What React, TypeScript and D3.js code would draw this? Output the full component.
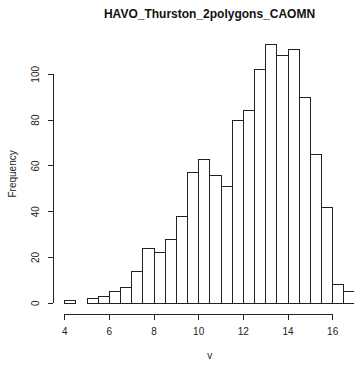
import React from "react";
import * as d3 from "d3";

const title = "HAVO_Thurston_2polygons_CAOMN";
const xLabel = "v";
const yLabel = "Frequency";
const binEdges = [4, 4.5, 5, 5.5, 6, 6.5, 7, 7.5, 8, 8.5, 9, 9.5, 10, 10.5, 11, 11.5, 12, 12.5, 13, 13.5, 14, 14.5, 15, 15.5, 16, 16.5, 17];
const counts = [1, 0, 2, 3, 5, 7, 14, 24, 22, 28, 38, 57, 63, 56, 51, 80, 84, 102, 113, 108, 111, 90, 65, 42, 8, 5];
const xTicks = [4, 6, 8, 10, 12, 14, 16];
const yTicks = [0, 20, 40, 60, 80, 100];

export default function App() {
  const W = 354, H = 365;
  const xMin = binEdges[0], xMax = binEdges[binEdges.length - 1];
  const yMaxData = d3.max(counts) as number;
  const xPad = (xMax - xMin) * 0.04;
  const yPad = yMaxData * 0.04;
  const x = d3.scaleLinear().domain([xMin - xPad, xMax + xPad]).range([53.1, 366.6]);
  const y = d3.scaleLinear().domain([-yPad, yMaxData + yPad]).range([313.6, 34.2]);
  const font = "'Liberation Sans', Arial, sans-serif";
  const axisY = 314;
  const axisX = 53.3;
  const stroke = "#222";
  return (
    <svg width={W} height={H} style={{ position: "absolute", left: 0, top: 0, background: "#fff" }} fontFamily={font}>
      <rect x={0} y={0} width={W} height={H} fill="#fff" />
      <text x={209.5} y={18} textAnchor="middle" fontWeight="bold" fontSize={12} fill="#111">{title}</text>
      {counts.map((c, i) => (
        <rect key={i}
          x={x(binEdges[i])} y={y(c)}
          width={x(binEdges[i + 1]) - x(binEdges[i])}
          height={y(0) - y(c)}
          fill="#fff" stroke={stroke} strokeWidth={1} shapeRendering="crispEdges" />
      ))}
      {/* x axis */}
      <line x1={x(xTicks[0])} x2={x(xTicks[xTicks.length - 1])} y1={axisY} y2={axisY} stroke={stroke} shapeRendering="crispEdges" />
      {xTicks.map(t => (
        <g key={t}>
          <line x1={x(t)} x2={x(t)} y1={axisY} y2={axisY + 5.5} stroke={stroke} shapeRendering="crispEdges" />
          <text x={x(t)} y={335} textAnchor="middle" fontSize={10} fill="#222">{t}</text>
        </g>
      ))}
      <text x={x(10.5)} y={359} textAnchor="middle" fontSize={10} fill="#222">{xLabel}</text>
      {/* y axis */}
      <line x1={axisX} x2={axisX} y1={y(yTicks[0])} y2={y(yTicks[yTicks.length - 1])} stroke={stroke} shapeRendering="crispEdges" />
      {yTicks.map(t => (
        <g key={t}>
          <line x1={axisX - 5.5} x2={axisX} y1={y(t)} y2={y(t)} stroke={stroke} shapeRendering="crispEdges" />
          <text transform={`translate(39,${y(t)}) rotate(-90)`} textAnchor="middle" fontSize={10} fill="#222">{t}</text>
        </g>
      ))}
      <text transform={`translate(16,${(y(-yPad) + y(yMaxData + yPad)) / 2}) rotate(-90)`} textAnchor="middle" fontSize={10} fill="#222">{yLabel}</text>
    </svg>
  );
}
